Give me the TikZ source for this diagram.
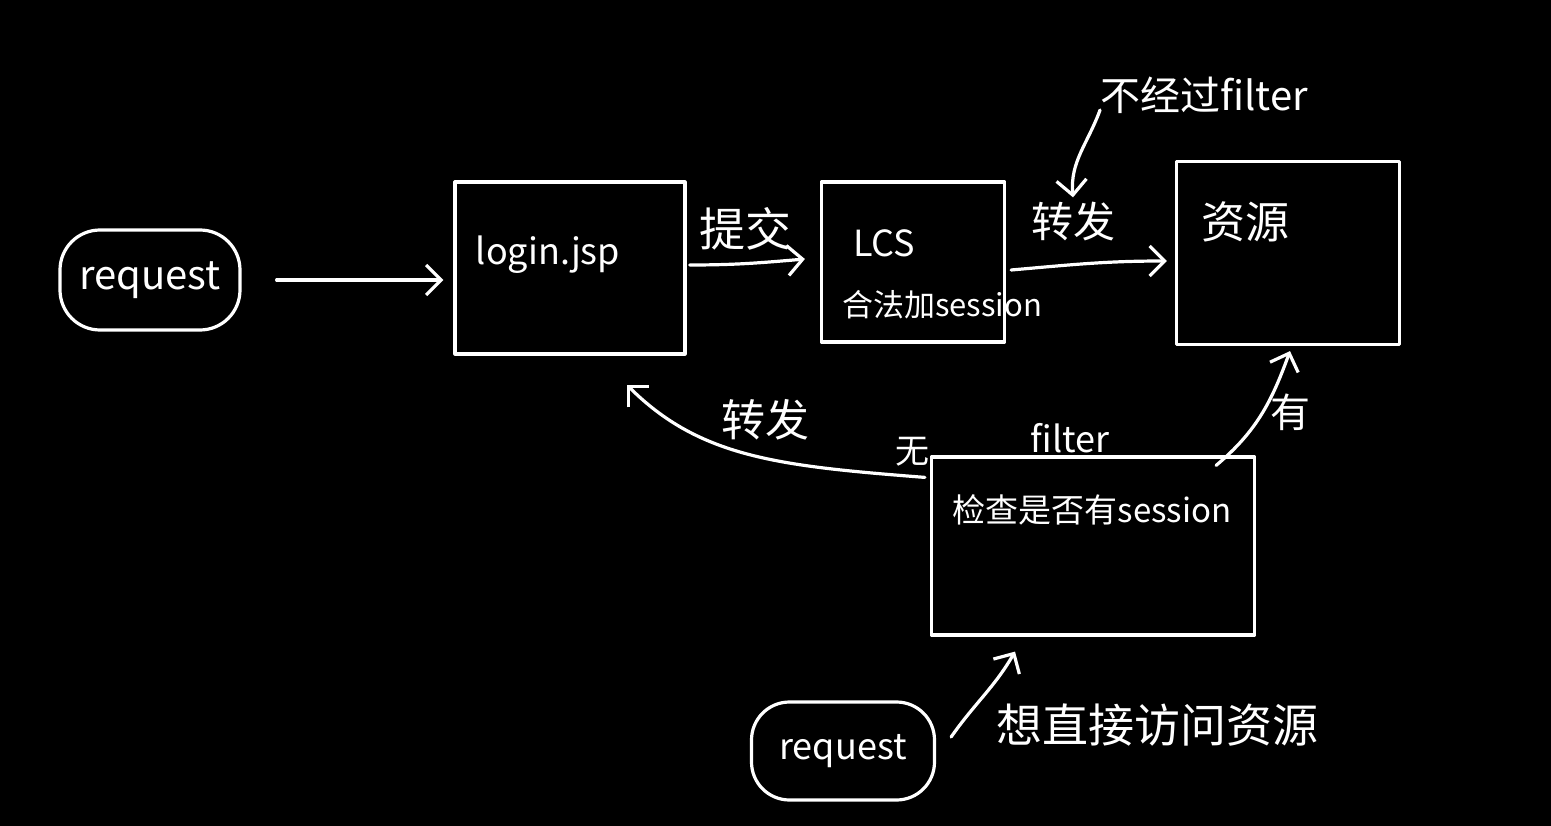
\documentclass[tikz,border=0pt]{standalone}
\usepackage{fontspec}
\setmainfont{Noto Sans CJK SC}
\usetikzlibrary{arrows.meta}
\begin{document}
\begin{tikzpicture}[x=1pt,y=-1pt,
  ink/.style={draw=white,line width=3.2pt,line cap=round,line join=round},
  box/.style={ink,rectangle,inner sep=0pt},
  arr/.style={ink,-{Straight Barb[length=15pt,width=30pt]}},
  txt/.style={text=white,inner sep=0pt,font=\fontsize{#1}{#1}\selectfont},
  txt/.default=40]
% canvas
\fill[black] (0,0) rectangle (1551,826);
\useasboundingbox (0,0) rectangle (1551,826);

% boxes
\node[box,rounded corners=40pt,minimum width=180pt,minimum height=100pt,txt=40] (req1) at (150,280) {request};
\node[box,minimum width=230pt,minimum height=172pt] (login) at (570,268) {};
\node[box,minimum width=183pt,minimum height=160pt] (lcs) at (913,262) {};
\node[box,minimum width=223pt,minimum height=183pt] (res) at (1288,253) {};
\node[box,minimum width=323pt,minimum height=178pt] (filt) at (1093,546) {};
\node[box,rounded corners=38pt,minimum width=183pt,minimum height=98pt,txt=36] (req2) at (843,751) {request};

% texts inside the boxes
\node[txt=36] (logintxt) at (548,255) {login.jsp};
\node[txt=36] (lcstxt) at (884,243) {LCS};
\node[txt=31] (lcstxt2) at (942,305) {合法加session};
\node[txt=44] (restxt) at (1245,222) {资源};
\node[txt=33] (filttxt) at (1092,510) {检查是否有session};

% labels
\node[txt=46] (submit) at (745,229) {提交};
\node[txt=42] (fwd1) at (1073,222) {转发};
\node[txt=40] (nofilter) at (1204,95) {不经过filter};
\node[txt=44] (fwd2) at (765,420) {转发};
\node[txt=34] (none) at (912,452) {无};
\node[txt=36] (filtlbl) at (1070,438) {filter};
\node[txt=40] (has) at (1290,412) {有};
\node[txt=46] (want) at (1157,725) {想直接访问资源};

% connectors
\draw[arr,shorten <=35pt,shorten >=10pt] (req1.east) -- (req1.east -| login.west);
\draw[arr] ([xshift=3pt,yshift=3pt]login.east) to[out=0,in=185] ([xshift=-15pt,yshift=3pt]lcs.west);
\draw[arr] ([xshift=5pt,yshift=-8pt]lcs.east) to[out=5,in=180] ([xshift=-8pt,yshift=-8pt]res.west);
\draw[arr] ([yshift=-15pt]nofilter.west) to[out=250,in=95] ([yshift=5pt]fwd1.north);
\draw[arr] ([xshift=-40pt,yshift=-10pt]filt.north east) to[out=40,in=250] ([xshift=2pt,yshift=-5pt]res.south);
\draw[arr] ([xshift=-5pt,yshift=-22pt]filt.north west)
  .. controls (780,466) and (700,458) .. ([xshift=-60pt,yshift=-29pt]login.south east);
\draw[arr] ([xshift=15pt,yshift=14pt]req2.east) to[out=55,in=240] ([xshift=-78pt,yshift=-15pt]filt.south);
\end{tikzpicture}
\end{document}
